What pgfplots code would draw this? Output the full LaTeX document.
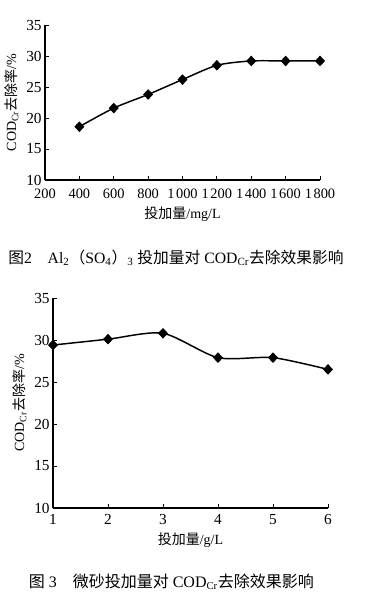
\documentclass[border=0pt]{standalone}
\usepackage{pgfplots}
\pgfplotsset{compat=1.18}
\usepackage{fontspec}
\setmainfont{Liberation Serif}
\newfontfamily\cjk{Noto Sans CJK SC}
\begin{document}
\begin{tikzpicture}
\useasboundingbox[fill=white] (0,0) rectangle (278.25pt,-456pt);
\pgfplotsset{
  myax/.style={
    scale only axis,
    axis lines=left,
    axis line style={-, line width=0.9pt},
    tick align=inside,
    major tick length=3pt,
    tick style={black, line width=0.7pt},
    /pgf/number format/assume math mode=true,
    /pgf/number format/1000 sep={\hspace{1.2pt}},
    tick label style={font=\fontsize{11.5pt}{13pt}\selectfont},
    xticklabel style={yshift=-1.5pt},
    yticklabel style={xshift=1pt},
    label style={font=\fontsize{10.5pt}{12pt}\selectfont},
    ymin=10, ymax=35, ytick={10,15,...,35},
    clip=false,
  },
  myplot/.style={black, line width=1.1pt, smooth, tension=0.45, mark=diamond*, mark size=3.6pt, mark options={xscale=1.25, line width=0.5pt}},
}
\begin{axis}[myax,
  at={(33.75pt,-135pt)}, anchor=south west,
  width=206.25pt, height=116.25pt,
  xmin=200, xmax=1800, xtick={200,400,...,1800},
  xticklabel style={font=\fontsize{10.8pt}{13pt}\selectfont, yshift=-1.5pt},
  xlabel={{\cjk 投加量}/mg/L},
  ylabel={COD\textsubscript{Cr}{\cjk 去除率}/\%},
  xlabel style={yshift=1pt},
  ylabel style={yshift=-1pt},
]
\addplot[myplot] coordinates {
(400,18.6) (600,21.6) (800,23.8) (1000,26.2) (1200,28.5) (1400,29.2) (1600,29.2) (1800,29.2)
};
\end{axis}
\node[font=\fontsize{11.8pt}{13pt}\selectfont] at (132pt,-193.5pt)
  {{\cjk 图}2\quad Al\textsubscript{2}{\cjk （}SO\textsubscript{4}{\cjk ）}\textsubscript{3} {\cjk 投加量对} COD\textsubscript{Cr}{\cjk 去除效果影响}};
\begin{axis}[myax,
  at={(39.75pt,-381pt)}, anchor=south west,
  width=206.25pt, height=157.5pt,
  xmin=1, xmax=6, xtick={1,...,6},
  xlabel={{\cjk 投加量}/g/L},
  ylabel={COD\textsubscript{Cr}{\cjk 去除率}/\%},
  xlabel style={yshift=1pt},
  ylabel style={yshift=-1pt},
]
\addplot[myplot] coordinates {
(1,29.4) (2,30.1) (3,30.8) (4,27.9) (5,27.9) (6,26.5)
};
\end{axis}
\node[font=\fontsize{12pt}{13pt}\selectfont] at (128.5pt,-436.5pt)
  {{\cjk 图} 3\quad {\cjk 微砂投加量对} COD\textsubscript{Cr}{\cjk 去除效果影响}};
\end{tikzpicture}
\end{document}
